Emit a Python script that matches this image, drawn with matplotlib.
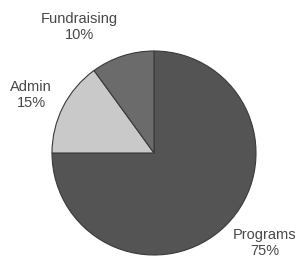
import matplotlib.pyplot as plt

# budget split
categories = ["Programs", "Admin", "Fundraising"]
shares = [75, 15, 10]
colors = ["#545454", "#c9c9c9", "#6b6b6b"]


def draw_pie():
    fig = plt.figure(figsize=(2.98, 2.65), dpi=100)
    ax = fig.add_axes([0, 0, 1, 1])

    ax.pie(shares, colors=colors, startangle=90, counterclock=False,
           center=(154, 112), radius=102,
           wedgeprops=dict(edgecolor="#3a3a3a", linewidth=0.8))

    # pie() resets the limits, so set them afterwards
    ax.set_xlim(0, 298)
    ax.set_ylim(0, 265)
    ax.set_aspect("equal")
    ax.axis("off")

    # label positions picked to match the original layout
    label_pos = {"Programs": (265, 22), "Admin": (31, 170), "Fundraising": (79, 238)}
    for name, value in zip(categories, shares):
        x, y = label_pos[name]
        ax.text(x, y, "%s\n%d%%" % (name, value), ha="center", va="center",
                fontsize=10.5, family="Liberation Sans", color="#474747",
                linespacing=1.2)

    fig.savefig("out.png", dpi=100)


if __name__ == '__main__':
    draw_pie()
